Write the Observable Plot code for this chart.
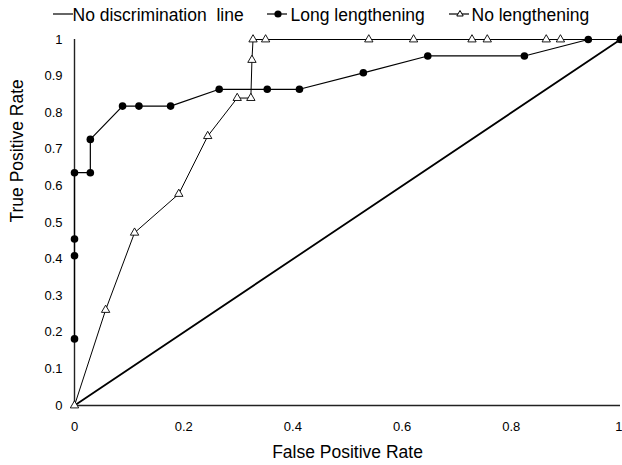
<!DOCTYPE html>
<html>
<head>
<meta charset="utf-8">
<script src="https://cdn.jsdelivr.net/npm/d3@7"></script>
<script src="https://cdn.jsdelivr.net/npm/@observablehq/plot@0.6"></script>
<style>
  body { margin: 0; background: #fff; font-family: "Liberation Sans", Arial, sans-serif; }
  #legend { position: relative; width: 622px; height: 30px; font-size: 17.5px; color: #000; }
  #legend .sw { position: absolute; top: 8px; }
  #legend .lbl { position: absolute; top: 5px; line-height: 20px; white-space: pre; }
</style>
</head>
<body>
<div id="legend"></div>
<div id="chart"></div>
<script>
// ---- data ----
const seriesNames = ["No discrimination line", "Long lengthening", "No lengthening"];

const noDiscX = [0, 1];
const noDiscY = [0, 1];

const longX = [0, 0, 0, 0, 0.029, 0.029, 0.088, 0.118, 0.176, 0.265, 0.353, 0.412, 0.529, 0.647, 0.824, 0.941, 1];
const longY = [0.182, 0.409, 0.455, 0.636, 0.636, 0.727, 0.818, 0.818, 0.818, 0.864, 0.864, 0.864, 0.909, 0.955, 0.955, 1, 1];

const noLenX = [0, 0.057, 0.110, 0.191, 0.244, 0.298, 0.323, 0.325, 0.327, 0.350, 0.539, 0.621, 0.728, 0.756, 0.864, 0.890, 1];
const noLenY = [0, 0.261, 0.472, 0.578, 0.736, 0.840, 0.840, 0.944, 1, 1, 1, 1, 1, 1, 1, 1, 1];

const xTicks = [0, 0.2, 0.4, 0.6, 0.8, 1];
const yTicks = [0, 0.1, 0.2, 0.3, 0.4, 0.5, 0.6, 0.7, 0.8, 0.9, 1];

const xTitle = "False Positive Rate";
const yTitle = "True Positive Rate";

// ---- tables ----
const toRows = (xs, ys) => xs.map((x, i) => ({x, y: ys[i]}));
const noDisc = toRows(noDiscX, noDiscY);
const longRows = toRows(longX, longY);
const noLenRows = toRows(noLenX, noLenY);

// ---- legend ----
const legend = document.getElementById("legend");
const legendItems = [
  {name: seriesNames[0], sw: 53, txt: 72.5, kind: "line"},
  {name: seriesNames[1], sw: 267, txt: 290.5, kind: "dot"},
  {name: seriesNames[2], sw: 449, txt: 471.5, kind: "tri"}
];
for (const it of legendItems) {
  const sw = document.createElementNS("http://www.w3.org/2000/svg", "svg");
  sw.setAttribute("class", "sw");
  sw.setAttribute("width", 22);
  sw.setAttribute("height", 12);
  sw.style.left = it.sw + "px";
  let inner = `<line x1="0" x2="20" y1="6" y2="6" stroke="#000" stroke-width="1.2"/>`;
  if (it.kind === "dot") inner += `<circle cx="11" cy="6" r="3.6" fill="#000"/>`;
  if (it.kind === "tri") inner += `<path d="M11,2.5 L14.2,8 L7.8,8 Z" fill="#fff" stroke="#000" stroke-width="1"/>`;
  sw.innerHTML = inner;
  legend.appendChild(sw);
  const lbl = document.createElement("div");
  lbl.className = "lbl";
  lbl.style.left = it.txt + "px";
  lbl.textContent = it.name === seriesNames[0] ? "No discrimination  line" : it.name;
  legend.appendChild(lbl);
}

// ---- chart ----
const chart = Plot.plot({
  width: 622,
  height: 435,
  marginLeft: 74,
  marginRight: 2,
  marginTop: 9,
  marginBottom: 60,
  style: {fontFamily: "'Liberation Sans', Arial, sans-serif", fontSize: "13px", color: "#000", background: "#fff", overflow: "visible"},
  x: {domain: [0, 1]},
  y: {domain: [0, 1]},
  marks: [
    Plot.axisX({ticks: xTicks.slice(0, -1), tickSize: 0, tickPadding: 16, tickFormat: d => String(d), label: null}),
    Plot.axisX({ticks: xTicks.slice(-1), tickSize: 0, tickPadding: 16, tickFormat: d => String(d), label: null, textAnchor: "end", dx: 2}),
    Plot.axisY({ticks: yTicks, tickSize: 0, tickPadding: 12, tickFormat: d => String(d), label: null}),
    Plot.ruleY([0], {x1: 0, x2: 1, stroke: "#222", strokeWidth: 1.4}),
    Plot.ruleX([0], {y1: 0, y2: 1, stroke: "#222", strokeWidth: 1.4}),
    Plot.line(noDisc, {x: "x", y: "y", stroke: "#000", strokeWidth: 1.8}),
    Plot.line(noLenRows, {x: "x", y: "y", stroke: "#000", strokeWidth: 1}),
    Plot.dot(noLenRows, {x: "x", y: "y", symbol: "triangle", r: 3.1, fill: "#fff", stroke: "#000", strokeWidth: 0.9}),
    Plot.line(longRows, {x: "x", y: "y", stroke: "#000", strokeWidth: 1.2}),
    Plot.dot(longRows, {x: "x", y: "y", r: 3.8, fill: "#000", stroke: "none"}),
    Plot.text([xTitle], {text: d => d, frameAnchor: "bottom", lineAnchor: "middle", dy: 46.5, fontSize: 17.5, fill: "#000"}),
    Plot.text([yTitle], {text: d => d, frameAnchor: "left", lineAnchor: "middle", rotate: -90, dx: -57, fontSize: 17.5, fill: "#000"})
  ]
});
document.getElementById("chart").appendChild(chart);
</script>
</body>
</html>
